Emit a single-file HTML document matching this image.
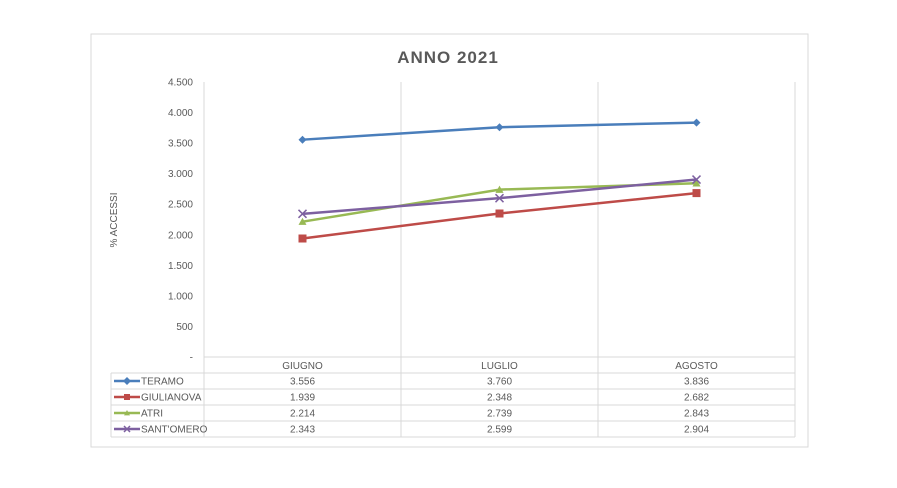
<!DOCTYPE html>
<html><head><meta charset="utf-8"><style>
body{margin:0;background:#fff;}
svg text{font-family:"Liberation Sans",sans-serif;fill:#595959;}
</style></head><body>
<svg id="c" width="897" height="483" viewBox="0 0 897 483" xmlns="http://www.w3.org/2000/svg">
<rect x="91" y="34" width="717" height="413" fill="#fff" stroke="#d9d9d9"/>
<text x="448" y="63" text-anchor="middle" font-size="17" font-weight="bold" style="letter-spacing:1px">ANNO 2021</text>
<text transform="translate(117,220) rotate(-90)" text-anchor="middle" font-size="10">% ACCESSI</text>
<g id="g"></g>
</svg>
<script>
const categories=["GIUGNO","LUGLIO","AGOSTO"];
const seriesNames=["TERAMO","GIULIANOVA","ATRI","SANT'OMERO"];
const teramo=[3556,3760,3836];
const giulianova=[1939,2348,2682];
const atri=[2214,2739,2843];
const santomero=[2343,2599,2904];
const tickValues=[0,500,1000,1500,2000,2500,3000,3500,4000,4500];
const tickLabels=["-","500","1.000","1.500","2.000","2.500","3.000","3.500","4.000","4.500"];
const values=[teramo,giulianova,atri,santomero];
const colors=["#4a7ebb","#be4b48","#98b954","#7d60a0"];
const markers=["diamond","square","triangle","x"];
const NS="http://www.w3.org/2000/svg";
const g=document.getElementById("g");
const L=204,R=795,T=82,B=357,cw=(R-L)/categories.length;
const y=v=>B-v/4500*(B-T);
const x=i=>L+cw*(i+0.5);
function mk(tag,a){const e=document.createElementNS(NS,tag);for(const k in a)e.setAttribute(k,a[k]);g.appendChild(e);return e;}
const fmt=v=>{const s=String(v);return s.length>3?s.slice(0,-3)+"."+s.slice(-3):s;};
// vertical gridlines
for(let i=0;i<=categories.length;i++){const l=mk("line",{x1:L+cw*i,x2:L+cw*i,y1:T,y2:B,stroke:"#d9d9d9"});

}
tickValues.forEach((v,i)=>{const t=mk("text",{x:193,y:y(v)+3.5,"text-anchor":"end","font-size":"10"});t.textContent=tickLabels[i];

});
// table
const rowH=16,tTop=357;
mk("line",{x1:L,x2:R,y1:tTop,y2:tTop,stroke:"#d9d9d9"});
for(let r=0;r<=seriesNames.length;r++){mk("line",{x1:111,x2:R,y1:tTop+rowH*(r+1),y2:tTop+rowH*(r+1),stroke:"#d9d9d9"});}
mk("line",{x1:111,x2:111,y1:tTop+rowH,y2:tTop+rowH*5,stroke:"#d9d9d9"});
for(let i=0;i<=categories.length;i++)mk("line",{x1:L+cw*i,x2:L+cw*i,y1:tTop,y2:tTop+rowH*5,stroke:"#d9d9d9"});
categories.forEach((c,i)=>{const t=mk("text",{x:x(i),y:tTop+12,"text-anchor":"middle","font-size":"10"});t.textContent=c;

});
function marker(type,cx,cy,col,s){
 if(type==="diamond")return mk("polygon",{points:`${cx},${cy-4} ${cx+4},${cy} ${cx},${cy+4} ${cx-4},${cy}`,fill:col});
 if(type==="square")return mk("rect",{x:cx-s,y:cy-s,width:2*s,height:2*s,fill:col});
 if(type==="triangle")return mk("polygon",{points:`${cx},${cy-s} ${cx+s},${cy+s*0.8} ${cx-s},${cy+s*0.8}`,fill:col});
 return mk("path",{d:`M${cx-s} ${cy-s}L${cx+s} ${cy+s}M${cx-s} ${cy+s}L${cx+s} ${cy-s}`,stroke:col,"stroke-width":1.5});
}
values.forEach((vals,si)=>{
 const col=colors[si];
 const p=mk("polyline",{points:vals.map((v,i)=>x(i)+","+y(v)).join(" "),fill:"none",stroke:col,"stroke-width":2.5});
 
 
 vals.forEach((v,i)=>{const m=marker(markers[si],x(i),y(v),col,4);
  
  });
 const ry=tTop+rowH*(si+1)+rowH/2;
 mk("line",{x1:114,x2:140,y1:ry,y2:ry,stroke:col,"stroke-width":2.5});
 const lm=marker(markers[si],127,ry,col,3);
 
 
 const lt=mk("text",{x:141,y:ry+3.5,"font-size":"10"});lt.textContent=seriesNames[si];
 
 
 vals.forEach((v,i)=>{const t=mk("text",{x:x(i),y:ry+3.5,"text-anchor":"middle","font-size":"10"});t.textContent=fmt(v);
  
  });
});
</script>
</body></html>
